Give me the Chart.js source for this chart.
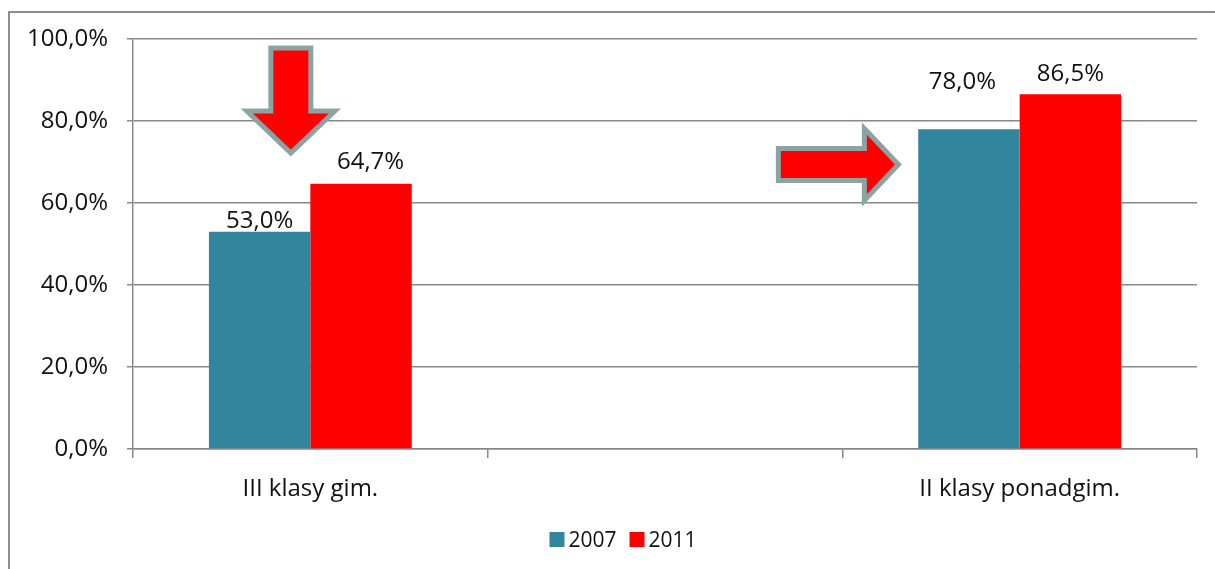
<!DOCTYPE html>
<html>
<head>
<meta charset="utf-8">
<title>III klasy gim. / II klasy ponadgim.</title>
<script src="https://cdn.jsdelivr.net/npm/chart.js@4.4.1/dist/chart.umd.min.js"></script>
<style>
  html, body { margin: 0; padding: 0; background: #fff; overflow: hidden; }
  #wrap { position: relative; width: 1215px; height: 569px; }
  #wrap canvas { position: absolute; left: 0; top: 0; }
  #frame {
    position: absolute; left: 8px; top: 11px; width: 1240px; height: 600px;
    border: 2px solid #8e8e8e; box-sizing: border-box; pointer-events: none;
  }
</style>
</head>
<body>
<div id="wrap">
  <canvas id="chart" width="1215" height="569"></canvas>
  <div id="frame"></div>
</div>
<script>
// Data
const categories = ['III klasy gim.', '', 'II klasy ponadgim.'];
const values2007 = [53.0, null, 78.0];
const values2011 = [64.7, null, 86.5];
const seriesNames = ['2007', '2011'];
const seriesColors = ['#31859C', '#FF0000'];

// Value labels were moved by hand in the original, so keep per-bar nudges (dx, dy above bar top)
const labelNudge = [
  [[0, 4], null, [-6.5, 40]],
  [[9.5, 15], null, [0, 13]]
];

// Decorative arrows: tip given in axis units (category index, percent)
const arrows = [
  { dir: [0, 1], tip: [-0.055, 72.2], length: 105, headLen: 42, shaftHalf: 20, headHalf: 44 },
  { dir: [1, 0], tip: [1.658, 69.4], length: 120, headLen: 34, shaftHalf: 16, headHalf: 36 }
];

const FONT = '"Open Sans", "Liberation Sans", sans-serif';
const TEXT = '#111';
const GRID = '#888';

function fmt(v) {
  return v.toFixed(1).replace('.', ',') + '%';
}

// Draws the value labels above each bar
const valueLabels = {
  id: 'valueLabels',
  afterDatasetsDraw(chart) {
    const ctx = chart.ctx;
    ctx.save();
    ctx.font = '24px ' + FONT;
    ctx.fillStyle = TEXT;
    ctx.textAlign = 'center';
    ctx.textBaseline = 'alphabetic';
    chart.data.datasets.forEach((ds, di) => {
      chart.getDatasetMeta(di).data.forEach((bar, i) => {
        const v = ds.data[i];
        if (v === null) return;
        const n = labelNudge[di][i] || [0, 4];
        ctx.fillText(fmt(v), bar.x + n[0], bar.y - n[1]);
      });
    });
    ctx.restore();
  }
};

// Draws the two block arrows
const blockArrows = {
  id: 'blockArrows',
  afterDatasetsDraw(chart) {
    const ctx = chart.ctx;
    const xs = chart.scales.x, ys = chart.scales.y;
    ctx.save();
    arrows.forEach(a => {
      const tx = xs.getPixelForValue(a.tip[0]);
      const ty = ys.getPixelForValue(a.tip[1]);
      const dx = a.dir[0], dy = a.dir[1];
      const nx = -dy, ny = dx;
      const bx = tx - dx * a.length, by = ty - dy * a.length;
      const kx = tx - dx * a.headLen, ky = ty - dy * a.headLen;
      const pts = [
        [bx + nx * a.shaftHalf, by + ny * a.shaftHalf],
        [kx + nx * a.shaftHalf, ky + ny * a.shaftHalf],
        [kx + nx * a.headHalf, ky + ny * a.headHalf],
        [tx, ty],
        [kx - nx * a.headHalf, ky - ny * a.headHalf],
        [kx - nx * a.shaftHalf, ky - ny * a.shaftHalf],
        [bx - nx * a.shaftHalf, by - ny * a.shaftHalf]
      ];
      ctx.beginPath();
      pts.forEach((p, i) => i ? ctx.lineTo(p[0], p[1]) : ctx.moveTo(p[0], p[1]));
      ctx.closePath();
      ctx.fillStyle = '#FF0000';
      ctx.fill();
      ctx.lineWidth = 5;
      ctx.lineJoin = 'miter';
      ctx.strokeStyle = '#8DA3A3';
      ctx.stroke();
    });
    ctx.restore();
  }
};

// Small legend under the axis, squares tight to the text like the original
const bottomLegend = {
  id: 'bottomLegend',
  afterDraw(chart) {
    const ctx = chart.ctx;
    const box = 15, gap = 4, itemGap = 13;
    ctx.save();
    ctx.font = '21px ' + FONT;
    ctx.textBaseline = 'alphabetic';
    ctx.textAlign = 'left';
    const items = chart.data.datasets.map(ds => ({
      text: ds.label, color: ds.backgroundColor, w: box + gap + ctx.measureText(ds.label).width
    }));
    const total = items.reduce((s, it) => s + it.w, 0) + itemGap * (items.length - 1);
    let x = 623 - total / 2;
    const y = 547;
    items.forEach(it => {
      ctx.fillStyle = it.color;
      ctx.fillRect(x, y - box, box, box);
      ctx.fillStyle = TEXT;
      ctx.fillText(it.text, x + box + gap, y);
      x += it.w + itemGap;
    });
    ctx.restore();
  }
};

Chart.defaults.font.family = FONT;
Chart.defaults.font.size = 24;
Chart.defaults.color = TEXT;

new Chart(document.getElementById('chart'), {
  type: 'bar',
  data: {
    labels: categories,
    datasets: [
      { label: seriesNames[0], data: values2007, backgroundColor: seriesColors[0] },
      { label: seriesNames[1], data: values2011, backgroundColor: seriesColors[1] }
    ]
  },
  options: {
    responsive: false,
    animation: false,
    events: [],
    layout: { padding: { top: 39, right: 18, left: 0, bottom: 0 } },
    datasets: {
      bar: { categoryPercentage: 0.572, barPercentage: 1.0, borderWidth: 0 }
    },
    plugins: {
      legend: { display: false },
      tooltip: { enabled: false }
    },
    scales: {
      x: {
        offset: true,
        afterFit(scale) { scale.height = 120; },
        grid: {
          offset: true,
          drawOnChartArea: false,
          drawTicks: true,
          tickLength: 9,
          color: GRID,
          lineWidth: 1.5
        },
        border: { color: GRID, width: 1.5 },
        ticks: { padding: 17, maxRotation: 0, autoSkip: false, color: TEXT }
      },
      y: {
        min: 0,
        max: 100,
        afterFit(scale) { scale.width = 133; },
        grid: { color: GRID, lineWidth: 1.5, tickLength: 6 },
        border: { color: GRID, width: 1.5 },
        ticks: { stepSize: 20, padding: 19, color: TEXT, callback: v => fmt(v) }
      }
    }
  },
  plugins: [blockArrows, valueLabels, bottomLegend]
});
</script>
</body>
</html>
